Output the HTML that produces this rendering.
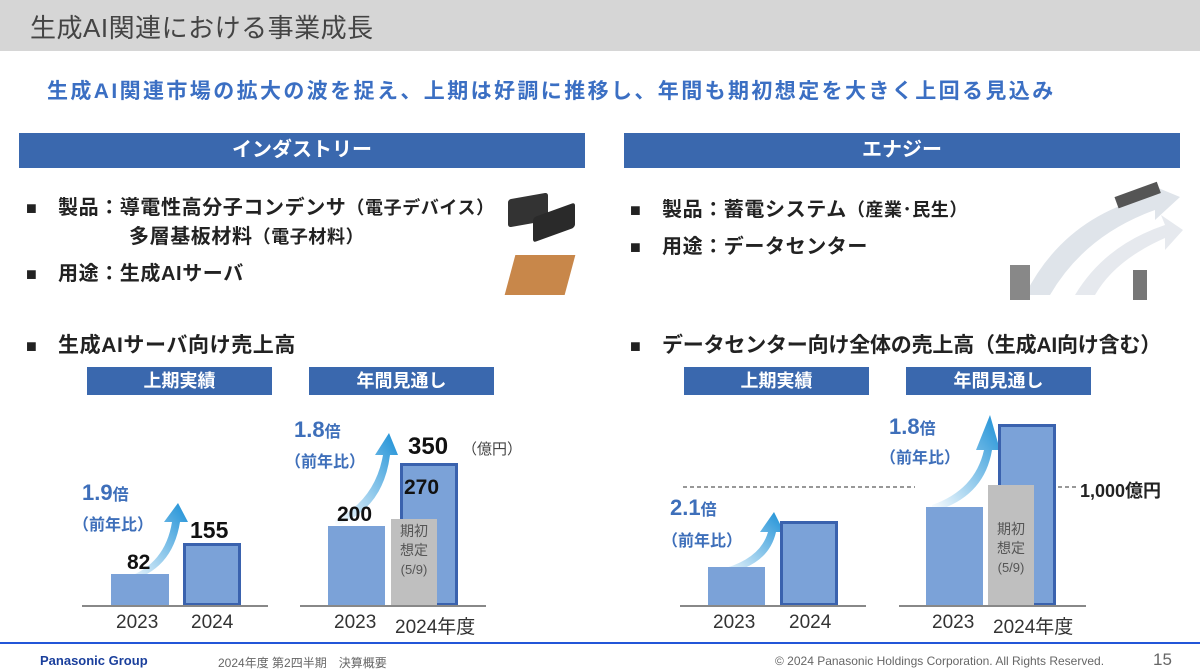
<!DOCTYPE html>
<html><head><meta charset="utf-8"><style>
*{margin:0;padding:0;box-sizing:border-box}
body{width:1200px;height:672px;position:relative;background:#fff;overflow:hidden;font-family:"Liberation Sans","Noto Sans CJK JP",sans-serif}
.a{position:absolute;white-space:nowrap}
.bar{position:absolute;background:#3a68ae;color:#fff;font-weight:bold;text-align:center}
.sec{height:35px;line-height:35px;font-size:20px;top:133px}
.sub{height:28px;line-height:28px;font-size:18px;top:367px}
.t{font-weight:bold;color:#222;font-size:20px;letter-spacing:0.6px}
.t b{display:inline-block;width:32px;font-size:18px}
.b{position:absolute;background:#7ba2d8}
.bd{position:absolute;background:#7ba2d8;border:3px solid #3a62ae}
.g{position:absolute;background:#bfbfbf;color:#555;font-size:14px;text-align:center;line-height:19px}
.base{position:absolute;height:2px;background:#888}
.yr{position:absolute;font-size:19px;color:#333}
.num{position:absolute;font-weight:bold;font-size:21px;color:#111}
.m{position:absolute;color:#3e6fba;font-weight:bold;font-size:22px}
.m small{font-size:16px}
.p{position:absolute;color:#3e6fba;font-weight:bold;font-size:16px}
</style></head><body>
<div class="a" style="left:0;top:0;width:1200px;height:51px;background:#d6d6d6"></div>
<div class="a" style="left:30px;top:8px;font-size:26px;color:#444;letter-spacing:0.5px">生成AI関連における事業成長</div>
<div class="a" style="left:47px;top:75px;font-size:21px;color:#3b6fc3;font-weight:bold;letter-spacing:2.4px">生成AI関連市場の拡大の波を捉え、上期は好調に推移し、年間も期初想定を大きく上回る見込み</div>
<div class="bar sec" style="left:19px;width:566px">インダストリー</div>
<div class="bar sec" style="left:624px;width:556px">エナジー</div>

<div class="a t" style="left:26px;top:191px"><b>■</b>製品：導電性高分子コンデンサ<span style="font-size:18px">（電子デバイス）</span></div>
<div class="a t" style="left:129px;top:220px">多層基板材料<span style="font-size:18px">（電子材料）</span></div>
<div class="a t" style="left:26px;top:257px"><b>■</b>用途：生成AIサーバ</div>
<div class="a" style="left:508px;top:196px;width:40px;height:28px;background:#333;transform:skewY(-10deg);border-radius:3px"></div>
<div class="a" style="left:533px;top:210px;width:42px;height:25px;background:#2a2a2a;transform:skewY(-20deg);border-radius:3px"></div>
<div class="a" style="left:510px;top:255px;width:60px;height:40px;background:#c8874a;transform:skewX(-15deg)"></div>

<div class="a t" style="left:630px;top:193px"><b>■</b>製品：蓄電システム<span style="font-size:18px">（産業･民生）</span></div>
<div class="a t" style="left:630px;top:230px"><b>■</b>用途：データセンター</div>
<svg class="a" style="left:1005px;top:175px" width="180" height="130"><path d="M20 120 Q60 40 150 20 L146 10 L175 22 L150 45 L150 35 Q80 60 45 120Z" fill="#dfe4ea"/><path d="M70 120 Q100 70 160 50 L156 40 L178 55 L160 75 L160 63 Q110 85 90 120Z" fill="#e6e9ee"/><rect x="110" y="15" width="45" height="12" fill="#555" transform="rotate(-20 130 20)"/><rect x="5" y="90" width="20" height="35" fill="#888"/><rect x="128" y="95" width="14" height="30" fill="#777"/></svg>

<div class="a t" style="left:26px;top:329px;font-size:21px"><b>■</b>生成AIサーバ向け売上高</div>
<div class="a t" style="left:630px;top:329px;font-size:21px;letter-spacing:-0.2px"><b>■</b>データセンター向け全体の売上高（生成AI向け含む）</div>

<div class="bar sub" style="left:87px;width:185px">上期実績</div>
<div class="bar sub" style="left:309px;width:185px">年間見通し</div>
<div class="bar sub" style="left:684px;width:185px">上期実績</div>
<div class="bar sub" style="left:906px;width:185px">年間見通し</div>

<svg class="a" style="left:0;top:0" width="1200" height="672">
<defs><linearGradient id="gr" x1="0" y1="1" x2="1" y2="0"><stop offset="0" stop-color="#fff"/><stop offset="1" stop-color="#1a8fd6"/></linearGradient></defs>
<path d="M125 578 Q165 565 172 522 L164 522 L178 503 L188 522 L180 522 Q172 572 125 582Z" fill="url(#gr)"/>
<path d="M335 520 Q375 500 383 455 L375 455 L389 433 L398 455 L390 455 Q383 510 335 526Z" fill="url(#gr)"/>
<path d="M718 570 Q760 560 768 532 L760 532 L774 512 L784 532 L776 532 Q768 568 718 575Z" fill="url(#gr)"/>
<path d="M932 505 Q975 490 984 450 L976 450 L990 415 L1000 450 L992 450 Q984 498 932 512Z" fill="url(#gr)"/>
<line x1="683" y1="487" x2="915" y2="487" stroke="#777" stroke-width="1.5" stroke-dasharray="4,3"/>
<line x1="1058" y1="487" x2="1078" y2="487" stroke="#777" stroke-width="1.5" stroke-dasharray="4,3"/>
</svg>

<div class="b" style="left:111px;top:574px;width:58px;height:32px"></div>
<div class="bd" style="left:183px;top:543px;width:58px;height:63px"></div>
<div class="base" style="left:82px;top:605px;width:186px"></div>
<div class="num" style="left:127px;top:551px">82</div>
<div class="num" style="left:190px;top:517px;font-size:23px">155</div>
<div class="yr" style="left:116px;top:612px">2023</div>
<div class="yr" style="left:191px;top:612px">2024</div>
<div class="m" style="left:82px;top:480px">1.9<small>倍</small></div>
<div class="p" style="left:73px;top:511px">（前年比）</div>

<div class="b" style="left:328px;top:526px;width:57px;height:80px"></div>
<div class="bd" style="left:400px;top:463px;width:58px;height:143px"></div>
<div class="g" style="left:391px;top:519px;width:46px;height:87px;padding-top:3px">期初<br>想定<br><span style="font-size:13px">(5/9)</span></div>
<div class="base" style="left:300px;top:605px;width:186px"></div>
<div class="num" style="left:337px;top:503px">200</div>
<div class="num" style="left:404px;top:476px">270</div>
<div class="num" style="left:408px;top:433px;font-size:24px">350</div>
<div class="a" style="left:462px;top:438px;font-size:15px;color:#444">（億円）</div>
<div class="yr" style="left:334px;top:612px">2023</div>
<div class="yr" style="left:395px;top:612px">2024年度</div>
<div class="m" style="left:294px;top:417px">1.8<small>倍</small></div>
<div class="p" style="left:285px;top:448px">（前年比）</div>

<div class="b" style="left:708px;top:567px;width:57px;height:39px"></div>
<div class="bd" style="left:780px;top:521px;width:58px;height:85px"></div>
<div class="base" style="left:680px;top:605px;width:186px"></div>
<div class="yr" style="left:713px;top:612px">2023</div>
<div class="yr" style="left:789px;top:612px">2024</div>
<div class="m" style="left:670px;top:495px">2.1<small>倍</small></div>
<div class="p" style="left:662px;top:527px">（前年比）</div>

<div class="b" style="left:926px;top:507px;width:57px;height:99px"></div>
<div class="bd" style="left:998px;top:424px;width:58px;height:182px"></div>
<div class="g" style="left:988px;top:485px;width:46px;height:121px;padding-top:35px">期初<br>想定<br><span style="font-size:13px">(5/9)</span></div>
<div class="base" style="left:899px;top:605px;width:187px"></div>
<div class="a" style="left:1080px;top:477px;font-size:18px;font-weight:bold;color:#222">1,000億円</div>
<div class="yr" style="left:932px;top:612px">2023</div>
<div class="yr" style="left:993px;top:612px">2024年度</div>
<div class="m" style="left:889px;top:414px">1.8<small>倍</small></div>
<div class="p" style="left:880px;top:444px">（前年比）</div>

<div class="a" style="left:0;top:642px;width:1200px;height:2px;background:#2356d8"></div>
<div class="a" style="left:40px;top:653px;font-size:13px;font-weight:bold;color:#1a3f9c">Panasonic Group</div>
<div class="a" style="left:218px;top:654px;font-size:12px;color:#666">2024年度 第2四半期　決算概要</div>
<div class="a" style="left:775px;top:654px;font-size:12px;color:#666">© 2024 Panasonic Holdings Corporation. All Rights Reserved.</div>
<div class="a" style="left:1153px;top:650px;font-size:17px;color:#666">15</div>
</body></html>
